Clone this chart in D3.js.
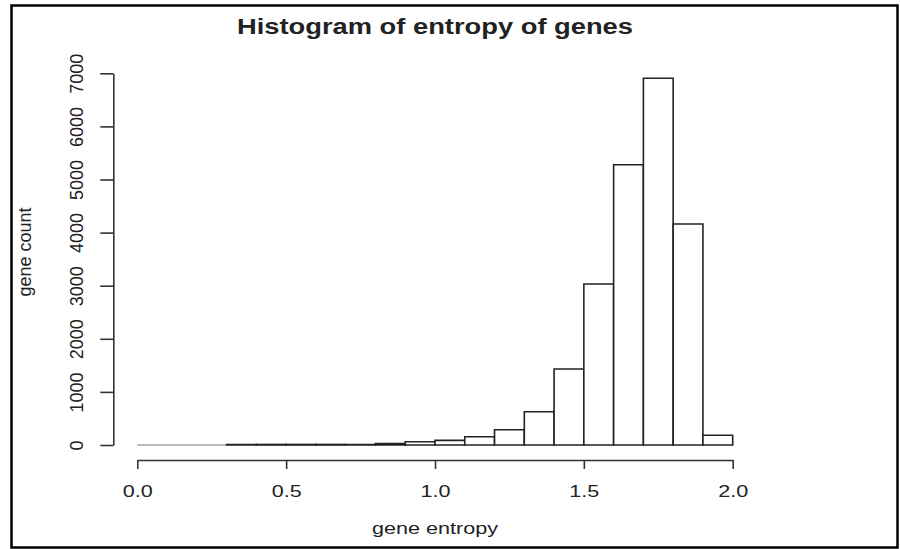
<!DOCTYPE html>
<html>
<head>
<meta charset="utf-8">
<script src="https://cdn.jsdelivr.net/npm/d3@7"></script>
<style>
  html, body { margin: 0; padding: 0; background: #fff; }
  svg { display: block; }
  text { font-family: "Liberation Sans", Arial, sans-serif; fill: #222; }
</style>
</head>
<body>
<svg id="chart" width="900" height="549"></svg>
<script>
// ---- data ----
const binStarts = [0.0,0.1,0.2,0.3,0.4,0.5,0.6,0.7,0.8,0.9,1.0,1.1,1.2,1.3,1.4,1.5,1.6,1.7,1.8,1.9];
const binWidth = 0.1;
const counts = [0,0,0,10,10,10,10,10,28,62,88,156,288,627,1431,3032,5279,6906,4162,183];
const xTicks = [0.0,0.5,1.0,1.5,2.0];
const yTicks = [0,1000,2000,3000,4000,5000,6000,7000];
const titleText = "Histogram of entropy of genes";
const xLabel = "gene entropy";
const yLabel = "gene count";

const svg = d3.select("#chart");

// frame
svg.append("rect").attr("x", 11.5).attr("y", 5.5).attr("width", 886).attr("height", 542)
  .attr("fill", "none").attr("stroke", "#000").attr("stroke-width", 2.5);

const x = d3.scaleLinear().domain([0, 2]).range([137.3, 732.7]);
const y = d3.scaleLinear().domain([0, 7000]).range([445, 73.3]);

// bars (drawn as closed paths so empty bins still show as a baseline segment)
svg.append("g").selectAll("path").data(binStarts).join("path")
  .attr("d", (d, i) => {
    const p = d3.path();
    p.rect(x(d), y(counts[i]), x(d + binWidth) - x(d), y(0) - y(counts[i]));
    return p.toString();
  })
  .attr("fill", "#fff")
  .attr("stroke", (d, i) => counts[i] === 0 ? "#777" : "#222")
  .attr("stroke-width", (d, i) => counts[i] === 0 ? 1.2 : 1.6);

// x axis
const gx = svg.append("g").attr("transform", "translate(0,460)")
  .call(d3.axisBottom(x).tickValues(xTicks).tickFormat(d3.format(".1f")).tickSize(9).tickSizeOuter(0));
gx.select(".domain").attr("stroke", "#333").attr("stroke-width", 1.6);
gx.selectAll(".tick line").attr("stroke", "#333").attr("stroke-width", 1.6);
gx.selectAll(".tick text")
  .attr("y", 37).attr("dy", null)
  .attr("font-size", 17)
  .attr("textLength", 30).attr("lengthAdjust", "spacingAndGlyphs")
  .style("font-family", "'Liberation Sans', Arial, sans-serif")
  .attr("fill", "#222");

// y axis
const gy = svg.append("g").attr("transform", "translate(113.3,0)")
  .call(d3.axisLeft(y).tickValues(yTicks).tickFormat(d3.format("d")).tickSize(13).tickSizeOuter(0));
gy.select(".domain").attr("stroke", "#333").attr("stroke-width", 1.6);
gy.selectAll(".tick line").attr("stroke", "#333").attr("stroke-width", 1.6);
gy.selectAll(".tick text")
  .attr("transform", "rotate(-90)")
  .attr("x", 0).attr("y", -30).attr("dy", null)
  .attr("text-anchor", "middle")
  .attr("font-size", 18)
  .style("font-family", "'Liberation Sans', Arial, sans-serif")
  .attr("fill", "#222");

// title
svg.append("text").attr("x", 435).attr("y", 34).attr("text-anchor", "middle")
  .attr("font-size", 22).attr("font-weight", "bold").attr("fill", "#111")
  .attr("textLength", 396).attr("lengthAdjust", "spacingAndGlyphs")
  .text(titleText);

// axis labels
svg.append("text").attr("x", 435).attr("y", 534).attr("text-anchor", "middle")
  .attr("font-size", 17).attr("textLength", 126).attr("lengthAdjust", "spacingAndGlyphs")
  .text(xLabel);

svg.append("text").attr("transform", "translate(31,252) rotate(-90)")
  .attr("text-anchor", "middle").attr("font-size", 18)
  .text(yLabel);
</script>
</body>
</html>
